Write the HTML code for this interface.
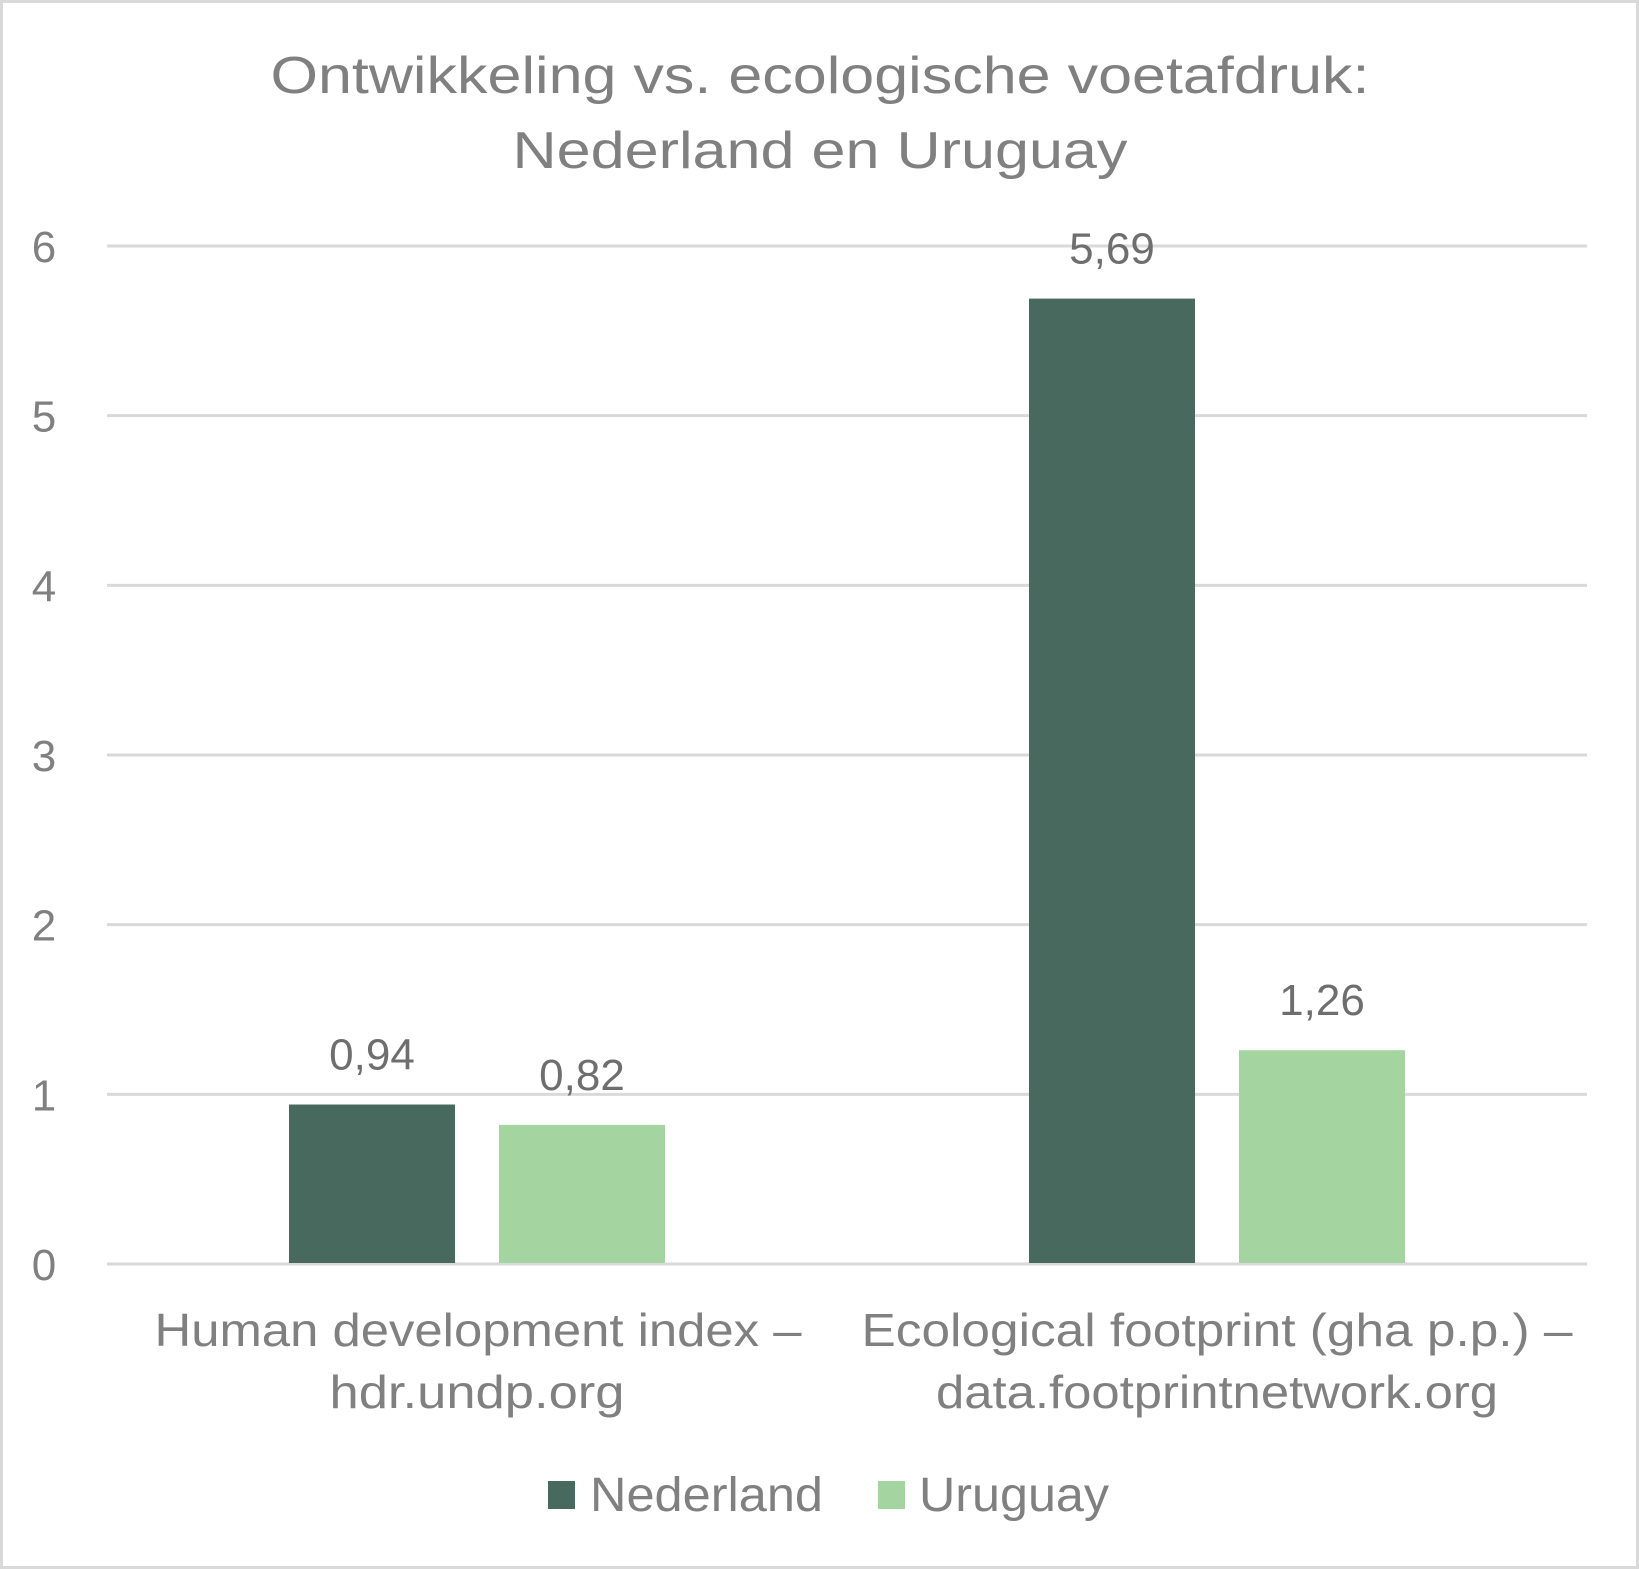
<!DOCTYPE html>
<html><head><meta charset="utf-8"><style>
html,body{margin:0;padding:0;background:#fff}
svg{display:block;font-family:"Liberation Sans",sans-serif}
</style></head><body>
<svg id="chart" width="1639" height="1569" viewBox="0 0 1639 1569">
<rect x="1.5" y="1.5" width="1636" height="1566" fill="#fff" stroke="#d9d9d9" stroke-width="3"/>
<g fill="#808080" font-size="52" text-anchor="middle">
<text x="820" y="93" textLength="1099" lengthAdjust="spacingAndGlyphs">Ontwikkeling vs. ecologische voetafdruk:</text>
<text x="820" y="168" textLength="615" lengthAdjust="spacingAndGlyphs">Nederland en Uruguay</text>
</g>
<g id="grid"></g>
<g id="yticks"></g>
<g id="bars"></g>
<g id="labels"></g>
<g fill="#808080" font-size="46" text-anchor="middle">
<text x="478" y="1346" textLength="647" lengthAdjust="spacingAndGlyphs">Human development index –</text>
<text x="477" y="1408" textLength="295" lengthAdjust="spacingAndGlyphs">hdr.undp.org</text>
<text x="1217" y="1346" textLength="711" lengthAdjust="spacingAndGlyphs">Ecological footprint (gha p.p.) –</text>
<text x="1217" y="1408" textLength="562" lengthAdjust="spacingAndGlyphs">data.footprintnetwork.org</text>
</g>
<g fill="#808080" font-size="48">
<g>
<rect x="548" y="1481" width="27" height="28" fill="#48695d"/>
<text x="590" y="1511" textLength="233" lengthAdjust="spacingAndGlyphs">Nederland</text></g>
<g>
<rect x="878" y="1481" width="27" height="28" fill="#a4d49f"/>
<text x="919" y="1511" textLength="190" lengthAdjust="spacingAndGlyphs">Uruguay</text></g>
</g>
</svg>
<script>
const categories = ["Human development index – hdr.undp.org", "Ecological footprint (gha p.p.) – data.footprintnetwork.org"];
const nederland = [0.94, 5.69];
const uruguay = [0.82, 1.26];
const yTicks = [0, 1, 2, 3, 4, 5, 6];
const seriesNames = ["Nederland", "Uruguay"];

const NS = "http://www.w3.org/2000/svg";
const left = 107, right = 1587, y0 = 1264, y6 = 246;
const yScale = v => y0 - (v / 6) * (y0 - y6);
const catW = (right - left) / categories.length;
const barW = 166, gap = 44;
const xBar = (ci, si) => left + catW * ci + catW / 2 - gap / 2 - barW + si * (barW + gap);
function mk(tag, attrs, parent) { const e = document.createElementNS(NS, tag); for (const k in attrs) e.setAttribute(k, attrs[k]); parent.appendChild(e); return e; }
const grid = document.getElementById('grid'), yt = document.getElementById('yticks');
yTicks.forEach(t => {
  const l = mk('line', {x1: left, x2: right, y1: yScale(t), y2: yScale(t), stroke: '#d9d9d9', 'stroke-width': 3}, grid);
  
  
  const tx = mk('text', {x: 44, y: yScale(t) + 16, 'text-anchor': 'middle', 'font-size': 44, fill: '#808080'}, yt);
  tx.textContent = t;
  
  
});
const bars = document.getElementById('bars'), labs = document.getElementById('labels');
[nederland, uruguay].forEach((ser, si) => {
  ser.forEach((v, ci) => {
    const x = xBar(ci, si);
    const r = mk('rect', {x: x, y: yScale(v), width: barW, height: y0 - yScale(v) - 1, fill: si ? '#a4d49f' : '#48695d'}, bars);
    
    
    const tx = mk('text', {x: x + barW / 2, y: yScale(v) - 35, 'text-anchor': 'middle', 'font-size': 44, fill: '#6e6e6e'}, labs);
    tx.textContent = v.toFixed(2).replace('.', ',');
    
    
  });
});
</script>
</body></html>
